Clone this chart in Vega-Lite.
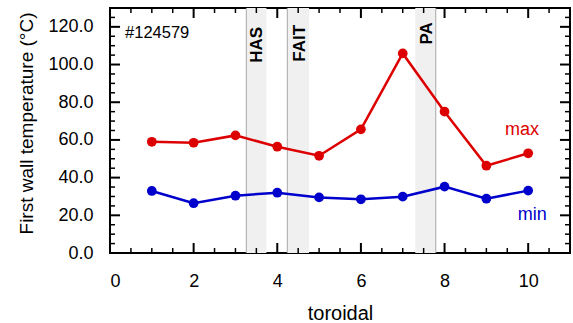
{
  "$schema": "https://vega.github.io/schema/vega-lite/v6.json",
  "autosize": {"type": "none"},
  "width": 460,
  "height": 245,
  "padding": {"left": 110, "top": 8, "right": 3, "bottom": 70},
  "config": {
    "view": {"stroke": "black", "strokeWidth": 2},
    "font": "Liberation Sans",
    "axis": {"grid": false, "domain": false, "labelFont": "Liberation Sans", "titleFont": "Liberation Sans", "labelColor": "black", "titleColor": "black", "titleFontWeight": "normal"}
  },
  "datasets": {
    "temps": [
      {"toroidal": 1, "series": "max", "temp": 59.0},
      {"toroidal": 2, "series": "max", "temp": 58.5},
      {"toroidal": 3, "series": "max", "temp": 62.4},
      {"toroidal": 4, "series": "max", "temp": 56.4},
      {"toroidal": 5, "series": "max", "temp": 51.6},
      {"toroidal": 6, "series": "max", "temp": 65.6},
      {"toroidal": 7, "series": "max", "temp": 105.9},
      {"toroidal": 8, "series": "max", "temp": 75.0},
      {"toroidal": 9, "series": "max", "temp": 46.3},
      {"toroidal": 10, "series": "max", "temp": 52.9},
      {"toroidal": 1, "series": "min", "temp": 32.9},
      {"toroidal": 2, "series": "min", "temp": 26.4},
      {"toroidal": 3, "series": "min", "temp": 30.4},
      {"toroidal": 4, "series": "min", "temp": 32.0},
      {"toroidal": 5, "series": "min", "temp": 29.5},
      {"toroidal": 6, "series": "min", "temp": 28.5},
      {"toroidal": 7, "series": "min", "temp": 29.9},
      {"toroidal": 8, "series": "min", "temp": 35.2},
      {"toroidal": 9, "series": "min", "temp": 28.8},
      {"toroidal": 10, "series": "min", "temp": 33.1}
    ],
    "bands": [
      {"name": "HAS", "start": 3.26, "end": 3.74, "edge": 3.26, "labelX": 3.51, "labelY": 120},
      {"name": "FAIT", "start": 4.24, "end": 4.76, "edge": 4.24, "labelX": 4.54, "labelY": 121},
      {"name": "PA", "start": 7.3, "end": 7.79, "edge": 7.79, "labelX": 7.57, "labelY": 122.5}
    ],
    "notes": [
      {"label": "max", "series": "max", "x": 9.85, "y": 65.3},
      {"label": "min", "series": "min", "x": 10.1, "y": 20.2}
    ],
    "shot": [
      {"label": "#124579", "x": 0.36, "y": 114.2}
    ],
    "xticks": [
      {"pos": 0, "kind": "major"}, {"pos": 2, "kind": "major"}, {"pos": 4, "kind": "major"}, {"pos": 6, "kind": "major"}, {"pos": 8, "kind": "major"}, {"pos": 10, "kind": "major"},
      {"pos": 0.5, "kind": "minor"}, {"pos": 1, "kind": "minor"}, {"pos": 1.5, "kind": "minor"}, {"pos": 2.5, "kind": "minor"}, {"pos": 3, "kind": "minor"}, {"pos": 3.5, "kind": "minor"}, {"pos": 4.5, "kind": "minor"}, {"pos": 5, "kind": "minor"}, {"pos": 5.5, "kind": "minor"}, {"pos": 6.5, "kind": "minor"}, {"pos": 7, "kind": "minor"}, {"pos": 7.5, "kind": "minor"}, {"pos": 8.5, "kind": "minor"}, {"pos": 9, "kind": "minor"}, {"pos": 9.5, "kind": "minor"}, {"pos": 10.5, "kind": "minor"}
    ],
    "yticks": [
      {"pos": 20, "kind": "major"}, {"pos": 40, "kind": "major"}, {"pos": 60, "kind": "major"}, {"pos": 80, "kind": "major"}, {"pos": 100, "kind": "major"}, {"pos": 120, "kind": "major"},
      {"pos": 5, "kind": "minor"}, {"pos": 10, "kind": "minor"}, {"pos": 15, "kind": "minor"}, {"pos": 25, "kind": "minor"}, {"pos": 30, "kind": "minor"}, {"pos": 35, "kind": "minor"}, {"pos": 45, "kind": "minor"}, {"pos": 50, "kind": "minor"}, {"pos": 55, "kind": "minor"}, {"pos": 65, "kind": "minor"}, {"pos": 70, "kind": "minor"}, {"pos": 75, "kind": "minor"}, {"pos": 85, "kind": "minor"}, {"pos": 90, "kind": "minor"}, {"pos": 95, "kind": "minor"}, {"pos": 105, "kind": "minor"}, {"pos": 110, "kind": "minor"}, {"pos": 115, "kind": "minor"}, {"pos": 125, "kind": "minor"}
    ]
  },
  "layer": [
    {
      "data": {"name": "bands"},
      "mark": {"type": "rect", "color": "#f0f0f0"},
      "encoding": {
        "x": {"field": "start", "type": "quantitative", "scale": {"domain": [0, 11], "nice": false, "zero": false},
              "axis": {"orient": "bottom", "values": [0, 2, 4, 6, 8, 10], "format": "d", "ticks": false, "labelPadding": 19, "labelFontSize": 18, "title": "toroidal", "titleFontSize": 20, "titleBaseline": "alphabetic", "titleY": 66}},
        "x2": {"field": "end"},
        "y": {"datum": 0, "type": "quantitative", "scale": {"domain": [0, 130], "nice": false, "zero": false},
              "axis": {"orient": "left", "values": [0, 20, 40, 60, 80, 100, 120], "format": ".1f", "ticks": false, "labelPadding": 17, "labelFontSize": 18, "title": "First wall temperature (°C)", "titleFontSize": 19, "titleX": -74, "titleY": 115}},
        "y2": {"datum": 130}
      }
    },
    {
      "data": {"name": "bands"},
      "mark": {"type": "rule", "color": "#a8a8a8", "strokeWidth": 1},
      "encoding": {
        "x": {"field": "edge", "type": "quantitative"},
        "y": {"datum": 0, "type": "quantitative"},
        "y2": {"datum": 130}
      }
    },
    {
      "data": {"name": "xticks"},
      "transform": [{"filter": "datum.kind === 'major'"}],
      "mark": {"type": "rule", "color": "black", "strokeWidth": 2},
      "encoding": {"x": {"field": "pos", "type": "quantitative"}, "y": {"datum": 0, "type": "quantitative"}, "y2": {"datum": 5.3}}
    },
    {
      "data": {"name": "xticks"},
      "transform": [{"filter": "datum.kind === 'major'"}],
      "mark": {"type": "rule", "color": "black", "strokeWidth": 2},
      "encoding": {"x": {"field": "pos", "type": "quantitative"}, "y": {"datum": 124.7, "type": "quantitative"}, "y2": {"datum": 130}}
    },
    {
      "data": {"name": "xticks"},
      "transform": [{"filter": "datum.kind === 'minor'"}],
      "mark": {"type": "rule", "color": "black", "strokeWidth": 1.5},
      "encoding": {"x": {"field": "pos", "type": "quantitative"}, "y": {"datum": 0, "type": "quantitative"}, "y2": {"datum": 2.65}}
    },
    {
      "data": {"name": "xticks"},
      "transform": [{"filter": "datum.kind === 'minor'"}],
      "mark": {"type": "rule", "color": "black", "strokeWidth": 1.5},
      "encoding": {"x": {"field": "pos", "type": "quantitative"}, "y": {"datum": 127.35, "type": "quantitative"}, "y2": {"datum": 130}}
    },
    {
      "data": {"name": "yticks"},
      "transform": [{"filter": "datum.kind === 'major'"}],
      "mark": {"type": "rule", "color": "black", "strokeWidth": 2},
      "encoding": {"y": {"field": "pos", "type": "quantitative"}, "x": {"datum": 0, "type": "quantitative"}, "x2": {"datum": 0.24}}
    },
    {
      "data": {"name": "yticks"},
      "transform": [{"filter": "datum.kind === 'major'"}],
      "mark": {"type": "rule", "color": "black", "strokeWidth": 2},
      "encoding": {"y": {"field": "pos", "type": "quantitative"}, "x": {"datum": 10.76, "type": "quantitative"}, "x2": {"datum": 11}}
    },
    {
      "data": {"name": "yticks"},
      "transform": [{"filter": "datum.kind === 'minor'"}],
      "mark": {"type": "rule", "color": "black", "strokeWidth": 1.5},
      "encoding": {"y": {"field": "pos", "type": "quantitative"}, "x": {"datum": 0, "type": "quantitative"}, "x2": {"datum": 0.12}}
    },
    {
      "data": {"name": "yticks"},
      "transform": [{"filter": "datum.kind === 'minor'"}],
      "mark": {"type": "rule", "color": "black", "strokeWidth": 1.5},
      "encoding": {"y": {"field": "pos", "type": "quantitative"}, "x": {"datum": 10.88, "type": "quantitative"}, "x2": {"datum": 11}}
    },
    {
      "data": {"name": "temps"},
      "mark": {"type": "line", "strokeWidth": 2.5, "point": {"filled": true, "size": 95, "opacity": 1}},
      "encoding": {
        "x": {"field": "toroidal", "type": "quantitative"},
        "y": {"field": "temp", "type": "quantitative"},
        "color": {"field": "series", "type": "nominal", "scale": {"domain": ["max", "min"], "range": ["#dd0000", "#0000cc"]}, "legend": null}
      }
    },
    {
      "data": {"name": "bands"},
      "mark": {"type": "text", "angle": 270, "align": "right", "baseline": "middle", "fontSize": 17, "fontWeight": "bold", "color": "black"},
      "encoding": {
        "text": {"field": "name"},
        "x": {"field": "labelX", "type": "quantitative"},
        "y": {"field": "labelY", "type": "quantitative"}
      }
    },
    {
      "data": {"name": "shot"},
      "mark": {"type": "text", "align": "left", "baseline": "alphabetic", "fontSize": 16.5, "color": "black"},
      "encoding": {
        "text": {"field": "label"},
        "x": {"field": "x", "type": "quantitative"},
        "y": {"field": "y", "type": "quantitative"}
      }
    },
    {
      "data": {"name": "notes"},
      "mark": {"type": "text", "align": "center", "baseline": "middle", "fontSize": 18},
      "encoding": {
        "text": {"field": "label"},
        "x": {"field": "x", "type": "quantitative"},
        "y": {"field": "y", "type": "quantitative"},
        "color": {"field": "series", "type": "nominal", "legend": null}
      }
    }
  ]
}
